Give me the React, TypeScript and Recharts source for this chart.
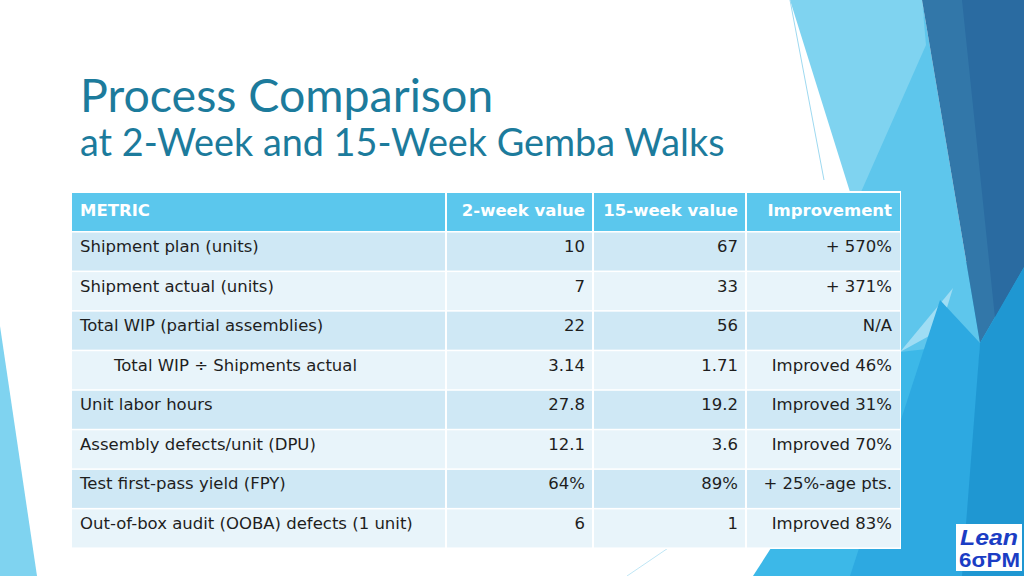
import { BarChart, Bar, Cell, XAxis, YAxis, ReferenceLine } from "recharts";

// table contents
const HEADERS = ["METRIC", "2-week value", "15-week value", "Improvement"];
const METRICS = [
  "Shipment plan (units)",
  "Shipment actual (units)",
  "Total WIP (partial assemblies)",
  "Total WIP ÷ Shipments actual",
  "Unit labor hours",
  "Assembly defects/unit (DPU)",
  "Test first-pass yield (FPY)",
  "Out-of-box audit (OOBA) defects (1 unit)",
];
const WEEK2 = ["10", "7", "22", "3.14", "27.8", "12.1", "64%", "6"];
const WEEK15 = ["67", "33", "56", "1.71", "19.2", "3.6", "89%", "1"];
const IMPROVEMENT = [
  "+ 570%", "+ 371%", "N/A", "Improved 46%", "Improved 31%",
  "Improved 70%", "+ 25%-age pts.", "Improved 83%",
];
const INDENTED = ["Total WIP ÷ Shipments actual"];

const TABLE_W = 828;
const TABLE_H = 356;
const COL_EDGES = [374, 521, 674];
const TITLE_FONT = "Lato, 'Open Sans', sans-serif";
const CELL_FONT = "'DejaVu Sans', 'Open Sans', sans-serif";

const rows = [
  { metric: HEADERS[0], w2: HEADERS[1], w15: HEADERS[2], imp: HEADERS[3], header: true, span: TABLE_W },
  ...METRICS.map((m, i) => ({
    metric: m, w2: WEEK2[i], w15: WEEK15[i], imp: IMPROVEMENT[i], header: false, span: TABLE_W,
  })),
];

const rowFill = (i: number) => (i === 0 ? "#5BC7ED" : i % 2 === 1 ? "#CFE8F5" : "#E8F4FA");

function RowShape(props: any) {
  const { x, y, width, height, payload, fill } = props;
  const head = payload.header;
  const base = y + height / 2 + (head ? 3.5 : 0.5);
  const common = {
    fontFamily: CELL_FONT,
    fontSize: 16.5,
    fontWeight: head ? 700 : 400,
    fill: head ? "#ffffff" : "#1e1e1e",
  };
  const indent = INDENTED.includes(payload.metric) ? 42 : 8;
  return (
    <g>
      <rect x={x} y={y} width={width} height={height} fill={fill} />
      <text x={x + indent} y={base} {...common}>{payload.metric}</text>
      <text x={x + COL_EDGES[1] - 8} y={base} textAnchor="end" {...common}>{payload.w2}</text>
      <text x={x + COL_EDGES[2] - 8} y={base} textAnchor="end" {...common}>{payload.w15}</text>
      <text x={x + TABLE_W - 8} y={base} textAnchor="end" {...common}>{payload.imp}</text>
    </g>
  );
}

function Backdrop() {
  return (
    <svg width={1024} height={576} style={{ position: "absolute", left: 0, top: 0 }}>
      {/* left corner facet */}
      <polygon points="0,326 37,576 0,576" fill="#7FD3F0" />
      {/* right side facets */}
      <polygon points="753,576 955,262 1024,262 1024,576" fill="#3CB8E8" />
      <polygon points="790,0 922,0 960,330 900,352" fill="#7FD3F0" />
      <polygon points="922,0 980,343 900,352 800,330 926,45" fill="#5EC6EC" />
      <polygon points="900,352 953,288 940,330" fill="#9FDDF4" />
      <polygon points="940,300 980,343 966,576 850,576" fill="#2DA9E1" />
      <polygon points="922,0 1024,0 1024,267 980,343" fill="#3277A9" />
      <polygon points="962,0 1024,0 1024,267 995,318" fill="#2A6BA1" />
      <polygon points="980,343 1024,267 1024,576 962,576" fill="#1F97D2" />
      <line x1={790} y1={0} x2={824} y2={180} stroke="#9ED9F0" strokeWidth={1} />
      <line x1={627} y1={576} x2={680} y2={540} stroke="#BFE6F5" strokeWidth={1} />
      {/* logo */}
      <rect x={956} y={524} width={66} height={47} fill="#ffffff" />
      <text x={960} y={545} fontFamily="'Liberation Sans', Arial, sans-serif" fontWeight={700}
        fontStyle="italic" fontSize={22} fill="#1B3DC4" textLength={58} lengthAdjust="spacingAndGlyphs">Lean</text>
      <text x={959} y={567} fontFamily="'Liberation Sans', Arial, sans-serif" fontWeight={700}
        fontSize={21} fill="#1B3DC4" textLength={61} lengthAdjust="spacingAndGlyphs">6σPM</text>
    </svg>
  );
}

export default function App() {
  return (
    <div style={{ position: "absolute", left: 0, top: 0, width: 1024, height: 576, background: "#fff", overflow: "hidden" }}>
      <Backdrop />
      <div style={{ position: "absolute", left: 80, top: 69, fontFamily: TITLE_FONT, color: "#1C7B9C" }}>
        <div style={{ fontSize: 46.5, lineHeight: "50px", whiteSpace: "nowrap" }}>Process Comparison</div>
        <div style={{ fontSize: 37.8, lineHeight: "46px", whiteSpace: "nowrap" }}>at 2-Week and 15-Week Gemba Walks</div>
      </div>
      <div style={{ position: "absolute", left: 71, top: 191, width: TABLE_W + 2, height: TABLE_H + 2, background: "#fff" }} />
      <div style={{ position: "absolute", left: 72, top: 192 }}>
        <BarChart width={TABLE_W} height={TABLE_H} data={rows} layout="vertical"
          margin={{ top: 0, right: 0, bottom: 0, left: 0 }} barCategoryGap={1}>
          <XAxis type="number" domain={[0, TABLE_W]} hide />
          <YAxis type="category" dataKey="metric" hide />
          <Bar dataKey="span" isAnimationActive={false} shape={RowShape}>
            {rows.map((_, i) => (
              <Cell key={i} fill={rowFill(i)} />
            ))}
          </Bar>
          {COL_EDGES.map((c) => (
            <ReferenceLine key={c} x={c} stroke="#ffffff" strokeWidth={2} />
          ))}
        </BarChart>
      </div>
    </div>
  );
}
